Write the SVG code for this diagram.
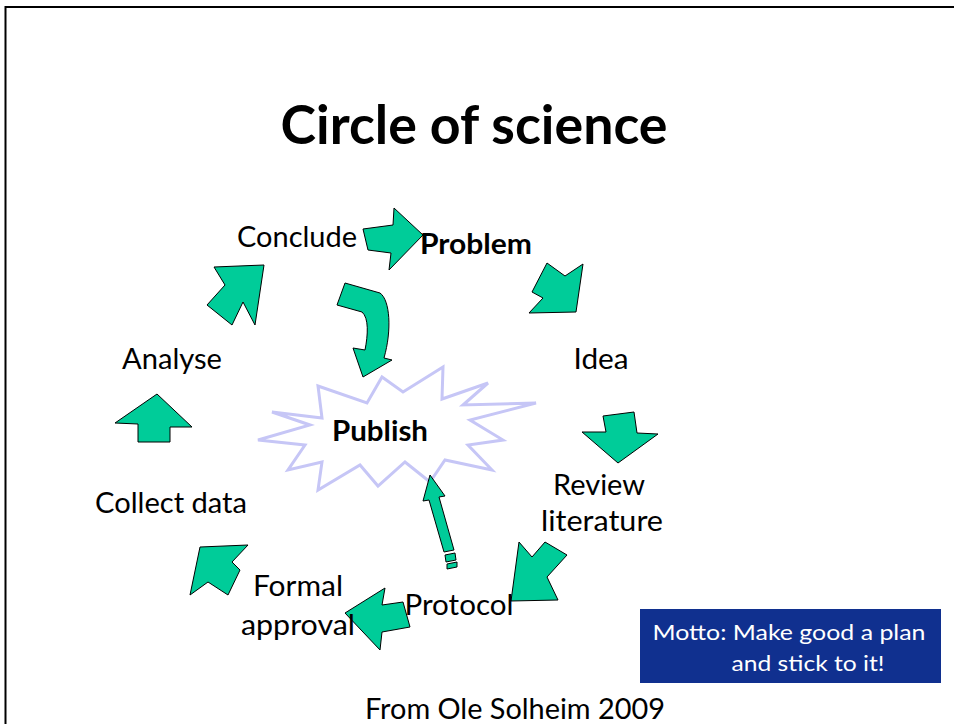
<svg xmlns="http://www.w3.org/2000/svg" width="954" height="724" viewBox="0 0 954 724">
<style>
.t{font-family:Lato,"Liberation Sans",sans-serif;font-size:29px;fill:#000}
.b{font-weight:bold}
.h{font-size:54px}
.arr{fill:#00cc99;stroke:#000;stroke-width:1;stroke-linejoin:miter}
.w{font-family:Lato,"Liberation Sans",sans-serif;font-size:22px;fill:#fff}
</style>
<rect x="0" y="0" width="954" height="724" fill="#fff"/>
<path d="M5.5,730 V7 H960" fill="none" stroke="#000" stroke-width="2"/>
<text class="t b h" x="474" y="144" text-anchor="middle" textLength="387" lengthAdjust="spacingAndGlyphs">Circle of science</text>
<g id="publish">
<path d="M318,386 L367,403 L382,377 L403,392 L443,367 L442,399 L488,383 L463,405 L536,403 L470,420 L503,440 L468,445 L492,470 L445,460 L430,482 L405,462 L378,486 L360,465 L318,490 L322,462 L288,470 L305,445 L258,440 L310,425 L272,412 L322,418 Z" fill="#fff" stroke="#c6c6f6" stroke-width="3" stroke-linejoin="miter"/>
<text class="t b" x="380" y="441" text-anchor="middle" textLength="96" lengthAdjust="spacingAndGlyphs">Publish</text>
</g>
<g id="connectors">
<path class="arr" d="M363,229 L393,225 L394,208 L423,235 L389,270 L391,253 L368,250 Z"/>
<path class="arr" d="M547,263 L565,276 L583,264 L576,312 L529,313 L543,298 L532,292 Z"/>
<path class="arr" d="M603,416 L634,412 L637,433 L658,434 L618,463 L582,432 L606,432 Z"/>
<path class="arr" d="M519,542 L532,557 L545,542 L567,555 L547,577 L558,600 L511,601 Z"/>
<path class="arr" d="M345,613 L385,588 L382,605 L403,602 L410,627 L382,632 L380,650 Z"/>
<path class="arr" d="M200,547 L248,545 L232,562 L240,570 L228,595 L208,582 L190,595 Z"/>
<path class="arr" d="M157,394 L192,427 L170,427 L170,442 L138,442 L138,424 L115,423 Z"/>
<path class="arr" d="M264,265 L255,325 L243,302 L232,325 L207,305 L225,285 L214,267 Z"/>
<path class="arr" d="M345,283 L380,293 C390,300 392,330 384,358 L392,360 L363,377 L353,348 L365,350 C368,335 369,318 362,312 L337,305 Z"/>
<path class="arr" d="M430,475 L445,496 L439,497 L454,550 L444,552 L429,500 L423,501 Z"/>
<path class="arr" d="M445,555 L455,553 L456,560 L446,562 Z"/>
<path class="arr" d="M447,564 L457,562 L457,567 L447,569 Z"/>
</g>
<g id="conclude"><text class="t" x="297" y="247" text-anchor="middle" textLength="120" lengthAdjust="spacingAndGlyphs">Conclude</text></g>
<g id="problem"><text class="t b" x="476" y="254" text-anchor="middle" textLength="112" lengthAdjust="spacingAndGlyphs">Problem</text></g>
<g id="idea"><text class="t" x="601" y="369" text-anchor="middle" textLength="55" lengthAdjust="spacingAndGlyphs">Idea</text></g>
<g id="review"><text class="t" x="599" y="495" text-anchor="middle" textLength="92" lengthAdjust="spacingAndGlyphs">Review</text><text class="t" x="602" y="531" text-anchor="middle" textLength="122" lengthAdjust="spacingAndGlyphs">literature</text></g>
<g id="protocol"><text class="t" x="459" y="615" text-anchor="middle" textLength="109" lengthAdjust="spacingAndGlyphs">Protocol</text></g>
<g id="formal"><text class="t" x="298" y="596" text-anchor="middle" textLength="90" lengthAdjust="spacingAndGlyphs">Formal</text><text class="t" x="298" y="635" text-anchor="middle" textLength="114" lengthAdjust="spacingAndGlyphs">approval</text></g>
<g id="collect"><text class="t" x="171" y="513" text-anchor="middle" textLength="152" lengthAdjust="spacingAndGlyphs">Collect data</text></g>
<g id="analyse"><text class="t" x="172" y="369" text-anchor="middle" textLength="100" lengthAdjust="spacingAndGlyphs">Analyse</text></g>
<g id="motto">
<rect x="640" y="609" width="301" height="74" fill="#10308f"/>
<text class="w" x="789" y="640" text-anchor="middle" textLength="273" lengthAdjust="spacingAndGlyphs">Motto: Make good a plan</text>
<text class="w" x="808" y="671" text-anchor="middle" textLength="153" lengthAdjust="spacingAndGlyphs">and stick to it!</text>
</g>
<text class="t" x="515" y="719" text-anchor="middle" textLength="300" lengthAdjust="spacingAndGlyphs">From Ole Solheim 2009</text>
</svg>
